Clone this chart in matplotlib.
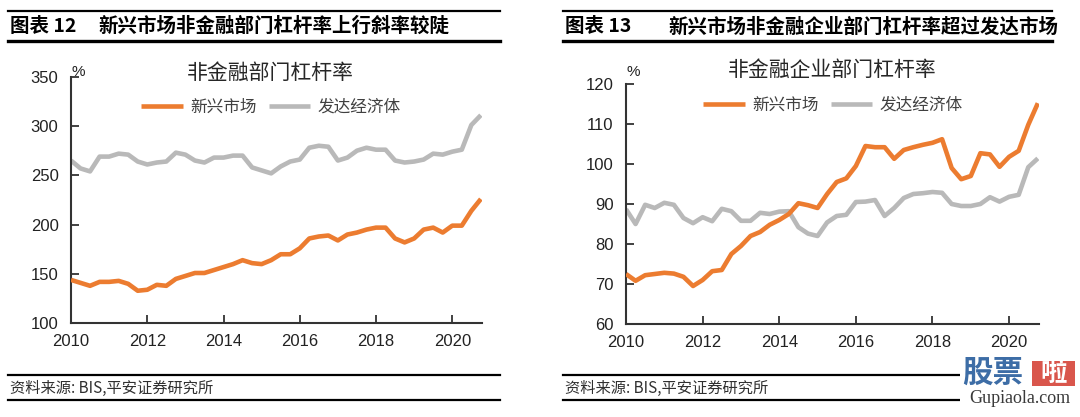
import numpy as np
import matplotlib
matplotlib.use("Agg")
import matplotlib.pyplot as plt
from matplotlib.patches import Rectangle
from matplotlib.lines import Line2D

plt.rcParams['font.family'] = ['Liberation Sans', 'Noto Sans CJK SC', 'DejaVu Sans']

# ---------------- data ----------------
quarters = [2010 + 0.25 * i for i in range(44)]

em_total = [144, 141, 138, 142, 142, 143, 140, 133, 134, 139, 138, 145,
            148, 151, 151, 154, 157, 160, 164, 161, 160, 164, 170, 170,
            176, 186, 188, 189, 184, 190, 192, 195, 197, 197, 186, 182,
            186, 195, 197, 192, 199, 199, 214, 226]
dev_total = [265, 257, 254, 269, 269, 272, 271, 264, 261, 263, 264, 273,
             271, 265, 263, 268, 268, 270, 270, 258, 255, 252, 259, 264,
             266, 278, 280, 279, 265, 268, 275, 278, 276, 276, 265, 263,
             264, 266, 272, 271, 274, 276, 301, 311]

em_corp = [72.5, 70.8, 72.2, 72.5, 72.8, 72.6, 71.8, 69.5, 71.0, 73.2, 73.5, 77.5,
           79.5, 82.0, 83.0, 84.8, 86.0, 87.5, 90.2, 89.7, 89.0, 92.5, 95.5, 96.4,
           99.5, 104.5, 104.2, 104.2, 101.3, 103.5, 104.2, 104.8, 105.3, 106.2, 99.0, 96.2,
           97.0, 102.7, 102.4, 99.3, 101.8, 103.3, 109.8, 115.2]
dev_corp = [88.7, 85.0, 89.8, 89.0, 90.3, 89.8, 86.5, 85.2, 86.7, 85.7, 88.8, 88.2,
            85.8, 85.8, 87.8, 87.5, 88.1, 88.2, 84.2, 82.6, 82.0, 85.4, 87.0, 87.3,
            90.5, 90.6, 91.0, 87.0, 89.0, 91.5, 92.5, 92.7, 93.0, 92.8, 90.0, 89.5,
            89.5, 90.0, 91.7, 90.6, 91.8, 92.3, 99.2, 101.4]

x_ticks = [2010, 2012, 2014, 2016, 2018, 2020]
y_ticks_left = [100, 150, 200, 250, 300, 350]
y_ticks_right = [60, 70, 80, 90, 100, 110, 120]

series_labels = ['新兴市场', '发达经济体']
chart_titles = ['非金融部门杠杆率', '非金融企业部门杠杆率']
headers = [('图表 12', '新兴市场非金融部门杠杆率上行斜率较陡'),
           ('图表 13', '新兴市场非金融企业部门杠杆率超过发达市场')]
source_text = '资料来源: BIS,平安证券研究所'

ORANGE = '#EC7C30'
GRAY = '#B9B9B9'
AXC = '#333333'

W, H = 1080, 417
fig = plt.figure(figsize=(W / 100, H / 100), dpi=100)


def fx(x):
    return x / W


def fy(y):
    return 1 - y / H


CJK = ['Noto Sans CJK SC', 'DejaVu Sans']


def hline(x0, x1, y, lw):
    fig.add_artist(Line2D([fx(x0), fx(x1)], [fy(y), fy(y)], color='black',
                          lw=lw, transform=fig.transFigure))


def make_panel(rect, em, dev, yticks, ylim, title, title_xy, legend_xy, pct_xy,
               header, hx, hx2, rule_x):
    ax = fig.add_axes(rect)
    ax.plot(quarters, dev, color=GRAY, lw=3.3, label=series_labels[1],
            solid_joinstyle='round', solid_capstyle='butt', zorder=2)
    ax.plot(quarters, em, color=ORANGE, lw=3.3, label=series_labels[0],
            solid_joinstyle='round', solid_capstyle='butt', zorder=3)
    ax.set_xlim(2010, 2020.78)
    ax.set_ylim(*ylim)
    ax.set_xticks(x_ticks)
    ax.set_xticklabels([str(t) for t in x_ticks])
    ax.set_yticks(yticks)
    for s in ['top', 'right']:
        ax.spines[s].set_visible(False)
    for s in ['left', 'bottom']:
        ax.spines[s].set_color(AXC)
        ax.spines[s].set_linewidth(1.5)
    ax.tick_params(axis='both', direction='in', length=6, width=1.3,
                   colors=AXC, labelsize=12, labelcolor='#222222')
    ax.tick_params(axis='x', pad=8)
    ax.tick_params(axis='y', pad=9)
    ax.patch.set_alpha(0)

    # legend (order: emerging, developed)
    h, l = ax.get_legend_handles_labels()
    order = [1, 0]
    leg = ax.legend([h[i] for i in order], [l[i] for i in order], loc='center',
                    bbox_to_anchor=(fx(legend_xy[0]), fy(legend_xy[1])),
                    bbox_transform=fig.transFigure, ncol=2, frameon=False,
                    handlelength=2.5, handletextpad=0.45, columnspacing=0.7,
                    prop={'family': CJK, 'size': 12})
    for t in leg.get_texts():
        t.set_color('#404040')

    fig.text(fx(title_xy[0]), fy(title_xy[1]), title, ha='center', va='center',
             fontsize=15, color='#262626', family=CJK)
    fig.text(fx(pct_xy[0]), fy(pct_xy[1]), '%', ha='center', va='center',
             fontsize=11, color='#222222')

    # header
    hline(rule_x[0], rule_x[1], 10.7, 1.6)
    hline(rule_x[0], rule_x[1], 40.7, 2.4)
    fig.text(fx(hx), fy(26.5), header[0], ha='left', va='center', fontsize=14,
             fontweight='bold', color='black', family=CJK)
    fig.text(fx(hx2), fy(26.5), header[1], ha='left', va='center', fontsize=14,
             fontweight='bold', color='black', family=CJK)
    # source
    hline(rule_x[0], rule_x[1], 375, 1.6)
    hline(rule_x[0], rule_x[1], 400, 1.6)
    fig.text(fx(rule_x[0] + 2), fy(388.5), source_text, ha='left', va='center',
             fontsize=11, color='#303030', style='italic', family=CJK)
    return ax


make_panel([fx(71), fy(323.3), fx(482) - fx(71), fy(76.7) - fy(323.3)],
           em_total, dev_total, y_ticks_left, (100, 350), chart_titles[0],
           (270, 72.5), (271, 107), (78, 71.5), headers[0], 10, 98, (8, 500))

make_panel([fx(626), fy(324), fx(1039) - fx(626), fy(84) - fy(324)],
           em_corp, dev_corp, y_ticks_right, (60, 120), chart_titles[1],
           (832, 70), (833, 105), (633, 71.5), headers[1], 565, 668, (563, 1052))

# watermark
fig.add_artist(Rectangle((fx(960), fy(404)), fx(1079) - fx(960), fy(359) - fy(404),
                         transform=fig.transFigure, facecolor='white', edgecolor='none',
                         zorder=5))
fig.text(fx(962), fy(373), '股票', ha='left', va='center', fontsize=22,
         fontweight='black', color='#3D6DA6', family=CJK, zorder=6)
fig.add_artist(Rectangle((fx(1032), fy(386)), fx(1075) - fx(1032), fy(361) - fy(386),
                         transform=fig.transFigure, facecolor='#D9564C', edgecolor='none',
                         zorder=6))
fig.text(fx(1053.5), fy(373.5), '啦', ha='center', va='center', fontsize=19,
         fontweight='bold', color='white', family=CJK, zorder=7)
fig.text(fx(1020), fy(398.5), 'Gupiaola.com', ha='center', va='center', fontsize=13,
         color='#3a3a3a', family=['Liberation Serif'], zorder=7)

fig.savefig('out.png', dpi=100)
